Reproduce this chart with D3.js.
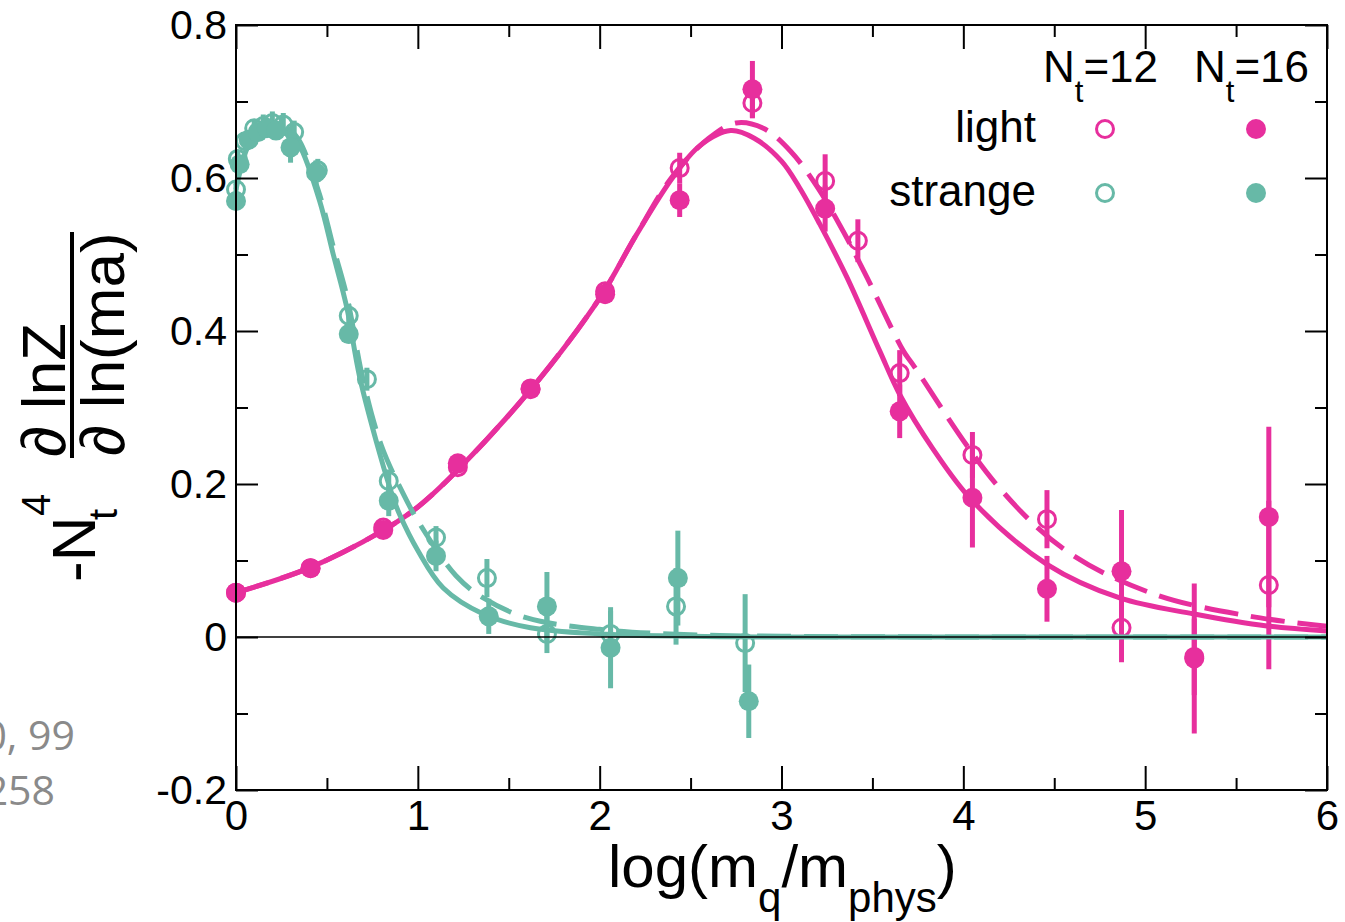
<!DOCTYPE html>
<html>
<head>
<meta charset="utf-8">
<script src="https://cdn.jsdelivr.net/npm/d3@7"></script>
<style>
  body { margin: 0; background: #fff; }
  svg { display: block; font-family: "Liberation Sans", Arial, sans-serif; }
</style>
</head>
<body>
<div id="chart"></div>
<script>
// data
const xTicks = [0, 1, 2, 3, 4, 5, 6];
const xMinorTicks = [0.5, 1.5, 2.5, 3.5, 4.5, 5.5];
const yTicks = [-0.2, 0, 0.2, 0.4, 0.6, 0.8];
const yTickLabels = ["-0.2", "0", "0.2", "0.4", "0.6", "0.8"];
const yMinorTicks = [-0.1, 0.1, 0.3, 0.5, 0.7];

// light quark, Nt=16 (filled)
const light16X = [0, 0.41, 0.81, 1.22, 1.62, 2.03, 2.44, 2.84, 3.24, 3.65, 4.05, 4.46, 4.87, 5.27, 5.68];
const light16Y = [0.058, 0.09, 0.14, 0.227, 0.324, 0.448, 0.571, 0.716, 0.56, 0.295, 0.182, 0.063, 0.086, -0.028, 0.157];
const light16E = [0.005, 0.006, 0.008, 0.01, 0.01, 0.012, 0.022, 0.037, 0.03, 0.035, 0.065, 0.043, 0.08, 0.098, 0.118];
// light quark, Nt=12 (open)
const light12X = [0, 0.41, 0.81, 1.22, 1.62, 2.03, 2.44, 2.84, 3.24, 3.42, 3.65, 4.05, 4.46, 4.87, 5.27, 5.68];
const light12Y = [0.058, 0.09, 0.143, 0.222, 0.325, 0.452, 0.613, 0.698, 0.596, 0.518, 0.345, 0.238, 0.154, 0.012, -0.026, 0.068];
const light12E = [0.004, 0.005, 0.006, 0.008, 0.008, 0.01, 0.02, 0.02, 0.035, 0.028, 0.03, 0.03, 0.038, 0.045, 0.05, 0.11];
// strange quark, Nt=16 (filled)
const strange16X = [0, 0.02, 0.07, 0.12, 0.17, 0.22, 0.3, 0.44, 0.62, 0.84, 1.1, 1.39, 1.71, 2.06, 2.43, 2.82];
const strange16Y = [0.57, 0.618, 0.65, 0.66, 0.665, 0.662, 0.64, 0.607, 0.396, 0.178, 0.106, 0.027, 0.04, -0.014, 0.077, -0.084];
const strange16E = [0.012, 0.01, 0.012, 0.012, 0.012, 0.012, 0.02, 0.016, 0.012, 0.02, 0.02, 0.023, 0.045, 0.053, 0.062, 0.048];
// strange quark, Nt=12 (open)
const strange12X = [0, 0.01, 0.05, 0.1, 0.15, 0.2, 0.26, 0.32, 0.45, 0.62, 0.72, 0.84, 1.1, 1.38, 1.71, 2.06, 2.42, 2.8];
const strange12Y = [0.585, 0.625, 0.648, 0.665, 0.668, 0.672, 0.67, 0.66, 0.61, 0.42, 0.337, 0.204, 0.13, 0.077, 0.004, 0.004, 0.04, -0.008];
const strange12E = [0.01, 0.01, 0.012, 0.012, 0.015, 0.015, 0.015, 0.015, 0.015, 0.015, 0.015, 0.015, 0.015, 0.025, 0.025, 0.03, 0.05, 0.064];

// fit curves (solid = Nt=16, dashed = Nt=12)
const lightFit16X = [0, 0.4, 0.8, 1.0, 1.23, 1.63, 2.0, 2.2, 2.4, 2.55, 2.72, 2.85, 3.0, 3.1, 3.21, 3.36, 3.54, 3.65, 3.83, 4.05, 4.46, 4.86, 5.27, 5.67, 6.0];
const lightFit16Y = [0.058, 0.09, 0.138, 0.17, 0.221, 0.326, 0.443, 0.525, 0.6, 0.642, 0.662, 0.652, 0.622, 0.587, 0.54, 0.47, 0.374, 0.317, 0.247, 0.178, 0.095, 0.051, 0.03, 0.0144, 0.008];
const lightFit12X = [0, 0.4, 0.8, 1.0, 1.23, 1.63, 2.0, 2.2, 2.4, 2.6, 2.75, 2.9, 3.05, 3.2, 3.34, 3.47, 3.67, 3.72, 4.18, 4.57, 5.05, 5.58, 6.0];
const lightFit12Y = [0.058, 0.09, 0.138, 0.17, 0.221, 0.326, 0.443, 0.525, 0.602, 0.652, 0.672, 0.665, 0.635, 0.587, 0.53, 0.47, 0.374, 0.357, 0.2, 0.112, 0.056, 0.027, 0.014];
const strangeFit16X = [0, 0.05, 0.1, 0.2, 0.3, 0.35, 0.46, 0.535, 0.61, 0.68, 0.79, 0.86, 0.9, 1.0, 1.14, 1.36, 1.62, 2.0, 2.5, 3.0, 4.0, 5.0, 6.0];
const strangeFit16Y = [0.585, 0.632, 0.655, 0.667, 0.655, 0.642, 0.57, 0.5, 0.43, 0.34, 0.24, 0.185, 0.16, 0.113, 0.064, 0.03, 0.012, 0.004, 0.001, 0, 0, 0, 0];
const strangeFit12X = [0, 0.1, 0.2, 0.3, 0.35, 0.46, 0.535, 0.61, 0.7, 0.8, 0.92, 1.01, 1.21, 1.36, 1.6, 2.0, 2.5, 3.0, 4.0, 6.0];
const strangeFit12Y = [0.59, 0.66, 0.672, 0.662, 0.648, 0.578, 0.51, 0.445, 0.335, 0.25, 0.187, 0.148, 0.08, 0.051, 0.025, 0.01, 0.003, 0.001, 0, 0];

const legendCols = ["12", "16"];
const legendRows = ["light", "strange"];

/* layout */
const width = 1345, height = 922;
const plot = { left: 236, right: 1327, top: 25, bottom: 790 };
const pink = "#e72f9d", teal = "#67b9a7";
const font = '"Liberation Sans", Arial, sans-serif';

const svg = d3.select("#chart").append("svg")
  .attr("width", width).attr("height", height);

const x = d3.scaleLinear().domain([0, 6]).range([plot.left, plot.right]);
const y = d3.scaleLinear().domain([-0.2, 0.8]).range([plot.bottom, plot.top]);

const zip = (xs, ys, es) => xs.map((v, i) => ({ x: v, y: ys[i], e: es ? es[i] : 0 }));

const line = d3.line().x(d => x(d.x)).y(d => y(d.y)).curve(d3.curveCatmullRom.alpha(0.5));

function drawFit(xs, ys, color, dashed) {
  svg.append("path")
    .datum(zip(xs, ys))
    .attr("d", line)
    .attr("fill", "none")
    .attr("stroke", color)
    .attr("stroke-width", 5)
    .attr("stroke-dasharray", dashed ? "34,13" : null);
}

function drawPoints(xs, ys, es, color, open) {
  const data = zip(xs, ys, es);
  const g = svg.append("g");
  g.selectAll("line.err").data(data).join("line")
    .attr("class", "err")
    .attr("x1", d => x(d.x)).attr("x2", d => x(d.x))
    .attr("y1", d => y(d.y - d.e)).attr("y2", d => y(d.y + d.e))
    .attr("stroke", color).attr("stroke-width", 5);
  g.selectAll("circle").data(data).join("circle")
    .attr("cx", d => x(d.x)).attr("cy", d => y(d.y))
    .attr("r", open ? 8.5 : 10)
    .attr("fill", open ? "none" : color)
    .attr("stroke", open ? color : "none")
    .attr("stroke-width", 3);
}

// light
drawFit(lightFit12X, lightFit12Y, pink, true);
drawFit(lightFit16X, lightFit16Y, pink, false);
drawPoints(light12X, light12Y, light12E, pink, true);
drawPoints(light16X, light16Y, light16E, pink, false);
// strange
drawFit(strangeFit12X, strangeFit12Y, teal, true);
drawFit(strangeFit16X, strangeFit16Y, teal, false);
drawPoints(strange12X, strange12Y, strange12E, teal, true);
drawPoints(strange16X, strange16Y, strange16E, teal, false);

// zero line
svg.append("line")
  .attr("x1", x(0)).attr("x2", x(6))
  .attr("y1", y(0)).attr("y2", y(0))
  .attr("stroke", "#000").attr("stroke-width", 1.6);

// frame
svg.append("rect")
  .attr("x", plot.left).attr("y", plot.top)
  .attr("width", plot.right - plot.left).attr("height", plot.bottom - plot.top)
  .attr("fill", "none").attr("stroke", "#000").attr("stroke-width", 2);

// axes, ticks pointing inward on all four sides
function styleAxis(g) {
  g.select(".domain").remove();
  g.selectAll(".tick line").attr("stroke", "#000").attr("stroke-width", 2);
  g.selectAll("text").attr("fill", "#000").attr("font-family", font);
}
svg.append("g").attr("transform", `translate(0,${plot.bottom})`)
  .call(d3.axisBottom(x).tickValues(xTicks).tickSize(-24).tickPadding(10).tickFormat(d => d))
  .call(styleAxis)
  .selectAll("text").attr("font-size", 42);
svg.append("g").attr("transform", `translate(0,${plot.bottom})`)
  .call(d3.axisBottom(x).tickValues(xMinorTicks).tickSize(-12).tickFormat(""))
  .call(styleAxis);
svg.append("g").attr("transform", `translate(0,${plot.top})`)
  .call(d3.axisTop(x).tickValues(xTicks).tickSize(-24).tickFormat(""))
  .call(styleAxis);
svg.append("g").attr("transform", `translate(0,${plot.top})`)
  .call(d3.axisTop(x).tickValues(xMinorTicks).tickSize(-12).tickFormat(""))
  .call(styleAxis);
svg.append("g").attr("transform", `translate(${plot.left},0)`)
  .call(d3.axisLeft(y).tickValues(yTicks).tickSize(-22).tickPadding(9)
    .tickFormat((d, i) => yTickLabels[i]))
  .call(styleAxis)
  .selectAll("text").attr("font-size", 41);
svg.append("g").attr("transform", `translate(${plot.left},0)`)
  .call(d3.axisLeft(y).tickValues(yMinorTicks).tickSize(-12).tickFormat(""))
  .call(styleAxis);
svg.append("g").attr("transform", `translate(${plot.right},0)`)
  .call(d3.axisRight(y).tickValues(yTicks).tickSize(-22).tickFormat(""))
  .call(styleAxis);
svg.append("g").attr("transform", `translate(${plot.right},0)`)
  .call(d3.axisRight(y).tickValues(yMinorTicks).tickSize(-12).tickFormat(""))
  .call(styleAxis);

// x axis title
const xt = svg.append("text")
  .attr("x", 608).attr("y", 887)
  .attr("font-family", font).attr("font-size", 60).attr("fill", "#000");
xt.append("tspan").text("log(m");
xt.append("tspan").attr("font-size", 42).attr("dy", 25).text("q");
xt.append("tspan").attr("dy", -25).text("/m");
xt.append("tspan").attr("font-size", 42).attr("dy", 25).text("phys");
xt.append("tspan").attr("dy", -25).text(")");

// y axis title, rotated
const yt = svg.append("g").attr("transform", "rotate(-90)")
  .attr("font-family", font).attr("fill", "#000");
yt.append("text").attr("x", -582).attr("y", 95).attr("font-size", 62).text("-N");
yt.append("text").attr("x", -516).attr("y", 50).attr("font-size", 40).text("4");
yt.append("text").attr("x", -520).attr("y", 117).attr("font-size", 40).text("t");
yt.append("text").attr("x", -457).attr("y", 65).attr("font-size", 62).text("\u2202 lnZ");
yt.append("text").attr("x", -456).attr("y", 124).attr("font-size", 62).text("\u2202 ln(ma)");
yt.append("line")
  .attr("x1", -458).attr("x2", -232)
  .attr("y1", 72).attr("y2", 72)
  .attr("stroke", "#000").attr("stroke-width", 4);

// legend
const legColX = [1105, 1256];
const legRowY = [129, 193];
legendCols.forEach((n, i) => {
  const t = svg.append("text")
    .attr("x", legColX[i] - 62).attr("y", 82)
    .attr("font-family", font).attr("font-size", 44).attr("fill", "#000");
  t.append("tspan").text("N");
  t.append("tspan").attr("font-size", 31).attr("dy", 20).text("t");
  t.append("tspan").attr("dy", -20).text("=" + n);
});
legendRows.forEach((name, j) => {
  svg.append("text")
    .attr("x", 1036).attr("y", legRowY[j] + 13)
    .attr("text-anchor", "end")
    .attr("font-family", font).attr("font-size", 44).attr("fill", "#000")
    .text(name);
  const c = j === 0 ? pink : teal;
  svg.append("circle").attr("cx", legColX[0]).attr("cy", legRowY[j]).attr("r", 8.5)
    .attr("fill", "none").attr("stroke", c).attr("stroke-width", 3);
  svg.append("circle").attr("cx", legColX[1]).attr("cy", legRowY[j]).attr("r", 10)
    .attr("fill", c);
});

// slide text cropped at the left edge, as in the source image
svg.append("text").attr("x", 75).attr("y", 750).attr("text-anchor", "end")
  .attr("font-family", '"Open Sans", sans-serif').attr("font-size", 41).attr("fill", "#8a8a8a")
  .text("0, 99");
svg.append("text").attr("x", 55).attr("y", 805).attr("text-anchor", "end")
  .attr("font-family", '"Open Sans", sans-serif').attr("font-size", 41).attr("fill", "#8a8a8a")
  .text("258");
</script>
</body>
</html>
